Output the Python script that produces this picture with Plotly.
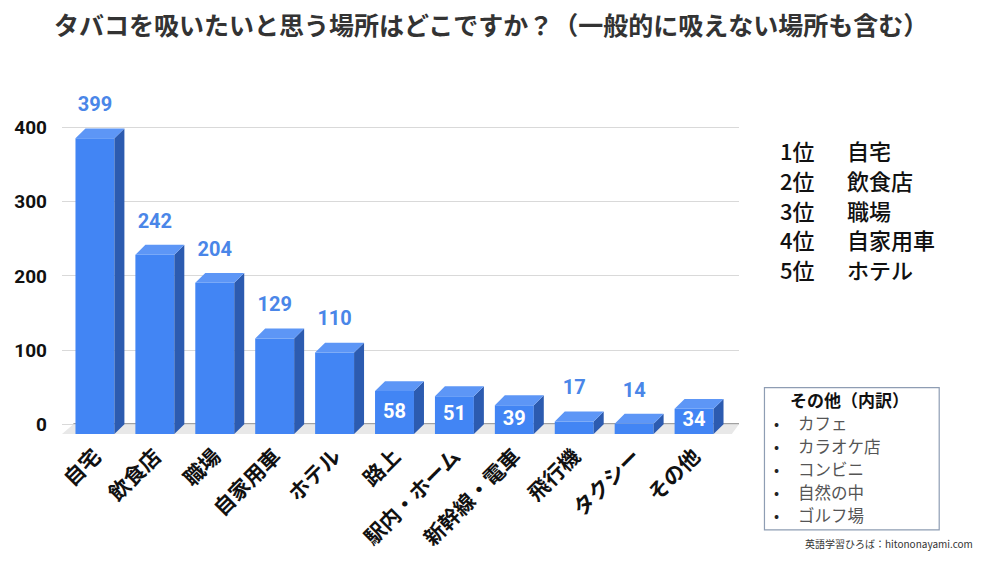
import plotly.graph_objects as go

# データ
places = ["自宅", "飲食店", "職場", "自家用車", "ホテル", "路上",
          "駅内・ホーム", "新幹線・電車", "飛行機", "タクシー", "その他"]
counts = [399, 242, 204, 129, 110, 58, 51, 39, 17, 14, 34]
y_ticks = [0, 100, 200, 300, 400]

top5_rank = ["1位", "2位", "3位", "4位", "5位"]
top5_name = ["自宅", "飲食店", "職場", "自家用車", "ホテル"]
other_title = "その他（内訳）"
other_items = ["カフェ", "カラオケ店", "コンビニ", "自然の中", "ゴルフ場"]

title = "タバコを吸いたいと思う場所はどこですか？（一般的に吸えない場所も含む）"
credit = "英語学習ひろば：hitononayami.com"

# 見た目
FRONT = "#4285F4"
SIDE = "#2C5BB0"
TOP = "#5D96F6"
LABEL = "#4A86E8"
JP = "Noto Sans CJK JP"

W = 0.65      # 正面の幅
DX = 10 / 60  # 奥行き (x)
DY = 10 / 0.75  # 奥行き (y)

# プロット領域 (px)
L, R, T, B = 61.5, 739.5, 98, 443


def px_x(px):
    return (px - L) / (R - L)


def px_y(py):
    return (B - py) / (B - T)


xs = list(range(len(places)))

fig = go.Figure()

# 正面
fig.add_trace(go.Bar(x=xs, y=counts, base=-DY, width=W,
                     marker=dict(color=FRONT, line=dict(width=0)),
                     hoverinfo="skip"))

# 側面と上面
side_x, side_y, top_x, top_y = [], [], [], []
for i, v in zip(xs, counts):
    r = i + W / 2
    l = i - W / 2
    side_x += [r, r + DX, r + DX, r, r, None]
    side_y += [-DY, 0, v, v - DY, -DY, None]
    top_x += [l, l + DX, r + DX, r, l, None]
    top_y += [v - DY, v, v, v - DY, v - DY, None]

fig.add_trace(go.Scatter(x=side_x, y=side_y, fill="toself", mode="lines",
                         fillcolor=SIDE, line=dict(width=0, color=SIDE),
                         hoverinfo="skip"))
fig.add_trace(go.Scatter(x=top_x, y=top_y, fill="toself", mode="lines",
                         fillcolor=TOP, line=dict(width=0, color=TOP),
                         hoverinfo="skip"))

# 数値ラベル
out_x, out_y, out_t, in_x, in_y, in_t = [], [], [], [], [], []
for i, v in zip(xs, counts):
    if 20 < v < 100:
        in_x.append(i)
        in_y.append(v / 2 - DY)
        in_t.append(str(v))
    else:
        out_x.append(i)
        out_y.append(v + 30)
        out_t.append(str(v))

fig.add_trace(go.Scatter(x=out_x, y=out_y, text=out_t, mode="text", cliponaxis=False,
                         textfont=dict(family="Roboto", size=20, color=LABEL, weight="bold"),
                         hoverinfo="skip"))
fig.add_trace(go.Scatter(x=in_x, y=in_y, text=in_t, mode="text", cliponaxis=False,
                         textfont=dict(family="Roboto", size=20, color="white", weight="bold"),
                         hoverinfo="skip"))

annotations = [
    dict(text=title, x=px_x(491), y=px_y(23), xref="paper", yref="paper",
         showarrow=False, xanchor="center", yanchor="middle",
         font=dict(family=JP, size=25, color="#333333", weight="bold")),
    dict(text=credit, x=px_x(976), y=px_y(549), xref="paper", yref="paper",
         showarrow=False, xanchor="right", yanchor="middle",
         font=dict(family=JP, size=10, color="#333333")),
    dict(text=other_title, x=px_x(850), y=px_y(403), xref="paper", yref="paper",
         showarrow=False, xanchor="center", yanchor="middle",
         font=dict(family=JP, size=17, color="#111111", weight="bold")),
]

# 上位5位
for k, (rank, name) in enumerate(zip(top5_rank, top5_name)):
    py = 151 + 30 * k
    annotations.append(dict(text=rank, x=px_x(779), y=px_y(py), xref="paper", yref="paper",
                            showarrow=False, xanchor="left", yanchor="middle",
                            font=dict(family=JP, size=22, color="#111111", weight=500)))
    annotations.append(dict(text=name, x=px_x(846), y=px_y(py), xref="paper", yref="paper",
                            showarrow=False, xanchor="left", yanchor="middle",
                            font=dict(family=JP, size=22, color="#111111", weight=500)))

# その他の内訳
for k, item in enumerate(other_items):
    py = 426.5 + 23.3 * k
    annotations.append(dict(text="•", x=px_x(773), y=px_y(py), xref="paper", yref="paper",
                            showarrow=False, xanchor="left", yanchor="middle",
                            font=dict(family=JP, size=15, color="#222222")))
    annotations.append(dict(text=item, x=px_x(797), y=px_y(py), xref="paper", yref="paper",
                            showarrow=False, xanchor="left", yanchor="middle",
                            font=dict(family=JP, size=16.5, color="#555555")))

shapes = [
    # 床
    dict(type="path", xref="x", yref="y", layer="below",
         path=f"M -0.55,{-DY} L -0.36,0 L 10.75,0 L 10.63,{-DY} Z",
         fillcolor="#E8E8E8", line=dict(width=0)),
    # 0 の線
    dict(type="line", xref="x", yref="y", x0=-0.36, x1=10.75, y0=0, y1=0,
         layer="below", line=dict(color="#444444", width=1.2)),
    # その他の枠
    dict(type="rect", xref="paper", yref="paper",
         x0=px_x(765), x1=px_x(940), y0=px_y(391), y1=px_y(535),
         line=dict(color="#8E9DB3", width=1.2), fillcolor="rgba(0,0,0,0)"),
]

fig.update_layout(
    width=1000, height=563,
    margin=dict(l=L, r=1000 - R, t=T, b=563 - B),
    paper_bgcolor="white", plot_bgcolor="white",
    showlegend=False,
    annotations=annotations,
    shapes=shapes,
    xaxis=dict(range=[-0.55, 10.75], tickmode="array", tickvals=xs, ticktext=places,
               tickangle=-45, showgrid=False, zeroline=False, showline=False,
               tickfont=dict(family=JP, size=21, color="#111111", weight="bold"),
               fixedrange=True),
    yaxis=dict(range=[-20, 440], tickmode="array", tickvals=y_ticks,
               showgrid=True, gridcolor="#D9D9D9", gridwidth=1, zeroline=False,
               ticklabelstandoff=14,
               tickfont=dict(family="Roboto", size=19, color="#111111", weight="bold"),
               fixedrange=True),
)

fig.write_html("out.html", config={"displayModeBar": False},
               post_script="document.body.style.margin='0';")
